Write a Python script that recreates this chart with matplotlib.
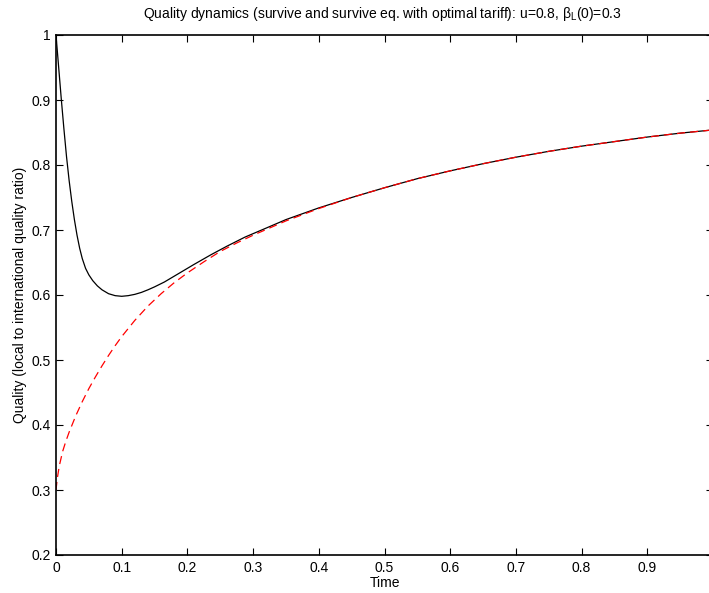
import matplotlib
matplotlib.use("Agg")
import matplotlib.pyplot as plt

plt.rcParams['font.family'] = ['Liberation Sans', 'DejaVu Sans']
plt.rcParams['mathtext.fontset'] = 'custom'
plt.rcParams['mathtext.rm'] = 'Liberation Sans'
plt.rcParams['mathtext.it'] = 'Liberation Sans:italic'

# Black solid curve: survive
t_survive = [0.0, 0.004, 0.008, 0.012, 0.016, 0.02, 0.024, 0.028, 0.032, 0.036,
             0.04, 0.045, 0.05, 0.056, 0.063, 0.07, 0.08, 0.09, 0.1, 0.11,
             0.12, 0.13, 0.14, 0.15, 0.165, 0.185, 0.21, 0.236, 0.26, 0.2875,
             0.32, 0.35, 0.4, 0.45, 0.5, 0.55, 0.6, 0.65, 0.7, 0.75,
             0.8, 0.85, 0.9, 0.95, 1.0]
q_survive = [1.0, 0.951, 0.902, 0.856, 0.813, 0.776, 0.744, 0.716, 0.692, 0.672,
             0.656, 0.641, 0.631, 0.622, 0.614, 0.608, 0.602, 0.599, 0.598, 0.599,
             0.601, 0.604, 0.608, 0.6125, 0.620, 0.632, 0.647, 0.662, 0.675, 0.689,
             0.703, 0.716, 0.734, 0.750, 0.765, 0.779, 0.791, 0.802, 0.812, 0.821,
             0.829, 0.836, 0.843, 0.849, 0.854]

# Red dashed curve: survive eq. with optimal tariff
t_eq = [0.0, 0.002, 0.005, 0.01, 0.015, 0.02, 0.03, 0.04, 0.05, 0.06,
        0.07, 0.08, 0.09, 0.1, 0.12, 0.14, 0.16, 0.18, 0.2, 0.225,
        0.25, 0.275, 0.3, 0.35, 0.4, 0.45, 0.5, 0.55, 0.6, 0.65,
        0.7, 0.75, 0.8, 0.85, 0.9, 0.95, 1.0]
q_eq = [0.300, 0.318, 0.337, 0.359, 0.375, 0.389, 0.414, 0.436, 0.456, 0.474,
        0.491, 0.507, 0.522, 0.536, 0.561, 0.583, 0.602, 0.619, 0.634, 0.651,
        0.667, 0.680, 0.692, 0.714, 0.733, 0.750, 0.765, 0.779, 0.791, 0.802,
        0.812, 0.821, 0.829, 0.836, 0.843, 0.849, 0.854]

xticks = [0, 0.1, 0.2, 0.3, 0.4, 0.5, 0.6, 0.7, 0.8, 0.9, 1.0]
xticklabels = ['0', '0.1', '0.2', '0.3', '0.4', '0.5', '0.6', '0.7', '0.8', '0.9', '']
yticks = [0.2, 0.3, 0.4, 0.5, 0.6, 0.7, 0.8, 0.9, 1.0]
yticklabels = ['0.2', '0.3', '0.4', '0.5', '0.6', '0.7', '0.8', '0.9', '1']

W, H = 709, 593
fig = plt.figure(figsize=(W / 100, H / 100), dpi=100)
left, right, top, bottom = 56, 713, 35, 555
ax = fig.add_axes([left / W, 1 - bottom / H, (right - left) / W, (bottom - top) / H])

ax.plot(t_survive, q_survive, color='black', lw=0.9)
ax.plot(t_eq, q_eq, color='red', lw=0.9, dashes=(6.5, 4))

ax.set_xlim(0, 1)
ax.set_ylim(0.2, 1)
ax.set_xticks(xticks)
ax.set_xticklabels(xticklabels)
ax.set_yticks(yticks)
ax.set_yticklabels(yticklabels)
ax.tick_params(direction='in', length=5, width=0.8, top=True, right=True,
               labelsize=10, pad=4)
for s in ax.spines.values():
    s.set_linewidth(1.2)

ax.set_xlabel('Time', fontsize=10, labelpad=1)
ax.set_ylabel('Quality (local to international quality ratio)', fontsize=10, labelpad=3)
fig.text(382 / W, 1 - 18 / H,
         r'Quality dynamics (survive and survive eq. with optimal tariff): u=0.8, β$_\mathrm{L}$(0)=0.3',
         fontsize=10, ha='center', va='baseline')

fig.savefig('out.png', dpi=100)
